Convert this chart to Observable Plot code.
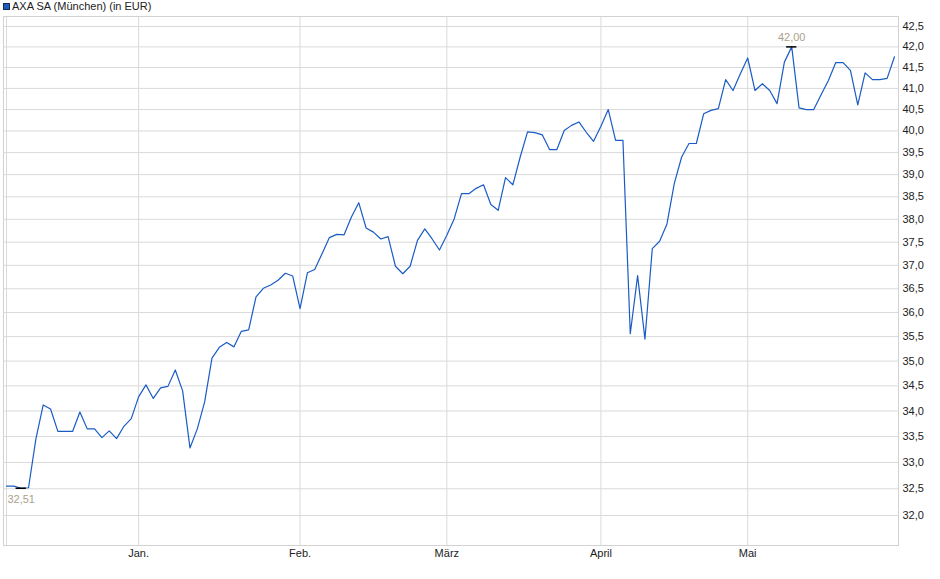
<!DOCTYPE html>
<html>
<head>
<meta charset="utf-8">
<script src="https://cdn.jsdelivr.net/npm/d3@7"></script>
<script src="https://cdn.jsdelivr.net/npm/@observablehq/plot@0.6"></script>
<style>
  html, body { margin: 0; padding: 0; background: #fff; }
  #legend { position: relative; height: 14px; width: 940px; font: 11px "Liberation Sans", Arial, sans-serif; color: #222; }
  #legend .sw { position: absolute; left: 3px; top: 3px; width: 5px; height: 5px; background: #1a5cc4; border: 1px solid #1b2a4a; }
  #legend .tx { position: absolute; left: 12px; top: 0px; line-height: 13px; white-space: nowrap; }
  svg { display: block; }
</style>
</head>
<body>
<div id="legend"><span class="sw"></span><span class="tx">AXA SA (München) (in EUR)</span></div>
<div id="chart"></div>
<script>
// Closing prices per trading day (index 0 = first day shown)
const prices = [
  32.55, 32.55, 32.51, 32.52, 33.45, 34.12, 34.04, 33.60, 33.60, 33.60,
  33.98, 33.65, 33.65, 33.48, 33.61, 33.46, 33.70, 33.85, 34.28, 34.52,
  34.25, 34.46, 34.49, 34.82, 34.40, 33.28, 33.65, 34.18, 35.06, 35.28,
  35.38, 35.29, 35.61, 35.64, 36.33, 36.51, 36.58, 36.68, 36.83, 36.77,
  36.08, 36.84, 36.91, 37.25, 37.60, 37.67, 37.66, 38.05, 38.37, 37.81,
  37.72, 37.57, 37.62, 36.98, 36.82, 36.98, 37.54, 37.79, 37.57, 37.33,
  37.65, 38.01, 38.57, 38.57, 38.69, 38.77, 38.33, 38.20, 38.93, 38.77,
  39.40, 39.98, 39.96, 39.91, 39.57, 39.57, 40.01, 40.13, 40.21, 39.97,
  39.76, 40.11, 40.50, 39.78, 39.78, 35.56, 36.78, 35.45, 37.36, 37.52,
  37.90, 38.80, 39.40, 39.71, 39.71, 40.40, 40.48, 40.52, 41.21, 40.95,
  41.35, 41.73, 40.95, 41.11, 40.95, 40.64, 41.63, 42.00, 40.54, 40.50,
  40.50, 40.85, 41.19, 41.62, 41.62, 41.43, 40.61, 41.37, 41.21, 41.21,
  41.24, 41.76
];
// First trading day of each month (index) and its label
const monthIdx = [18, 40, 60, 81, 101];
const monthLabels = ["Jan.", "Feb.", "März", "April", "Mai"];
// Price axis ticks
const yTicks = [32.0, 32.5, 33.0, 33.5, 34.0, 34.5, 35.0, 35.5, 36.0, 36.5, 37.0,
                37.5, 38.0, 38.5, 39.0, 39.5, 40.0, 40.5, 41.0, 41.5, 42.0, 42.5];

const data = prices.map((v, i) => ({i, v}));
const minI = d3.minIndex(prices);
const maxI = d3.maxIndex(prices);
const lowPt = [{i: minI, v: prices[minI]}];
const highPt = [{i: maxI, v: prices[maxI]}];
const fmt2 = v => v.toFixed(2).replace(".", ",");
const fmt1 = v => v.toFixed(1).replace(".", ",");
const grid = "#dadada";
const labelColor = "#ab9f8c";

const chart = Plot.plot({
  width: 940,
  height: 565,
  marginTop: 2,
  marginLeft: 3,
  marginRight: 42,
  marginBottom: 34,
  style: {fontFamily: "'Liberation Sans', Arial, sans-serif", fontSize: "11px", color: "#222", background: "#fff"},
  x: {type: "linear", domain: [-0.41, 121.55], axis: null, label: null},
  y: {type: "log", domain: [31.448, 42.747], axis: null, label: null},
  marks: [
    Plot.ruleY(yTicks, {stroke: grid, strokeWidth: 1}),
    Plot.ruleX(monthIdx, {stroke: grid, strokeWidth: 1}),
    Plot.ruleX([0], {stroke: grid, strokeWidth: 1}),
    Plot.frame({stroke: "#d2d2d2"}),
    Plot.axisY(yTicks, {anchor: "right", tickSize: 0, tickPadding: 4, tickFormat: fmt1, fill: "#222", label: null}),
    Plot.axisX(monthIdx, {anchor: "bottom", tickSize: 0, tickPadding: 4,
      tickFormat: d => monthLabels[monthIdx.indexOf(d)], fill: "#222", label: null}),
    Plot.line(data, {x: "i", y: "v", stroke: "#1a5cc4", strokeWidth: 1.2}),
    Plot.ruleY(lowPt.concat(highPt), {x1: d => d.i - 0.7, x2: d => d.i + 0.7, y: "v", stroke: "#000", strokeWidth: 1.5}),
    Plot.text(lowPt, {x: "i", y: "v", dy: 11, text: d => fmt2(d.v), fill: labelColor, fontSize: 11}),
    Plot.text(highPt, {x: "i", y: "v", dy: -9, text: d => fmt2(d.v), fill: labelColor, fontSize: 11})
  ]
});
document.getElementById("chart").append(chart);
</script>
</body>
</html>
